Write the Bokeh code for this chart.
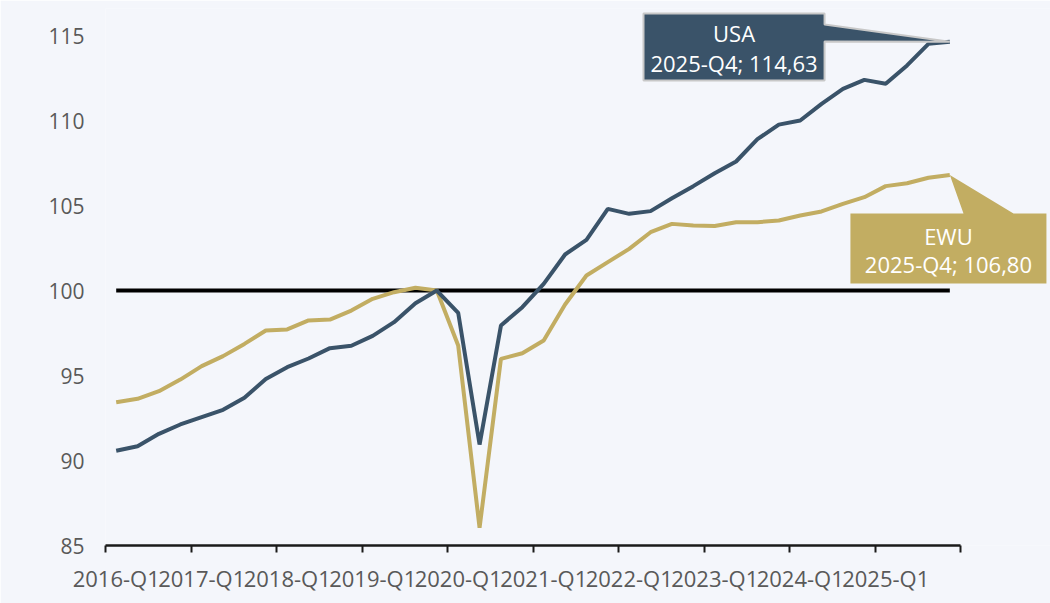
from bokeh.plotting import figure
from bokeh.models import FixedTicker, Range1d
from bokeh.core.properties import value
from bokeh.embed import file_html
from bokeh.resources import INLINE

# ---- data ----
quarters = [f"{y}-Q{q}" for y in range(2016, 2026) for q in range(1, 5)]
usa = [90.57, 90.84, 91.57, 92.12, 92.55, 92.98, 93.69, 94.80, 95.49, 96.00,
       96.61, 96.75, 97.33, 98.14, 99.25, 100.00, 98.69, 90.94, 97.94, 99.02,
       100.39, 102.12, 102.98, 104.80, 104.51, 104.67, 105.43, 106.14, 106.90, 107.59,
       108.90, 109.76, 110.00, 110.98, 111.86, 112.39, 112.16, 113.24, 114.51, 114.63]
ewu = [93.43, 93.63, 94.08, 94.76, 95.55, 96.14, 96.86, 97.65, 97.71, 98.24,
       98.29, 98.82, 99.51, 99.90, 100.16, 100.00, 96.76, 86.04, 95.98, 96.31,
       97.06, 99.18, 100.88, 101.67, 102.45, 103.43, 103.92, 103.82, 103.80, 104.02,
       104.02, 104.12, 104.41, 104.65, 105.10, 105.49, 106.14, 106.31, 106.63, 106.80]
baseline = [100.0] * len(quarters)
y_ticks = [85, 90, 95, 100, 105, 110, 115]
usa_label = ["USA", "2025-Q4; 114,63"]
ewu_label = ["EWU", "2025-Q4; 106,80"]

# ---- styles ----
BG = "#f4f6fb"
C_USA = "#3a5369"
C_EWU = "#c2ad62"
TXT = "#595959"
FONT = "Open Sans"

n = len(quarters)
x = list(range(n))

p = figure(width=1050, height=603,
           x_range=Range1d(-0.5, 43.71), y_range=Range1d(85, 116.59),
           output_backend="svg", toolbar_location=None,
           min_border_left=105, min_border_right=0, min_border_top=8, min_border_bottom=58)
p.background_fill_color = BG
p.border_fill_color = BG
p.outline_line_color = None
p.xgrid.visible = False
p.ygrid.visible = False

# y axis
ya = p.yaxis[0]
ya.ticker = FixedTicker(ticks=y_ticks)
ya.axis_line_color = None
ya.major_tick_line_color = None
ya.minor_tick_line_color = None
ya.major_tick_out = 0
ya.major_tick_in = 0
ya.major_label_standoff = 21
ya.major_label_text_font = FONT
ya.major_label_text_font_size = "21px"
ya.major_label_text_color = TXT

# x axis: labels at category centres, tick marks at every 4th boundary (minor ticks)
xa = p.xaxis[0]
xa.bounds = (-0.5, n - 0.5)
xa.ticker = FixedTicker(ticks=list(range(0, n, 4)),
                        minor_ticks=[-0.5 + 4 * k for k in range(n // 4 + 1)])
xa.major_label_overrides = {i: quarters[i] for i in range(0, n, 4)}
xa.axis_line_color = "#1a1a1a"
xa.axis_line_width = 2.5
xa.major_tick_line_color = None
xa.major_tick_out = 0
xa.major_tick_in = 0
xa.minor_tick_line_color = "#1a1a1a"
xa.minor_tick_line_width = 2
xa.minor_tick_out = 7
xa.minor_tick_in = 0
xa.major_label_standoff = 10
xa.major_label_text_font = FONT
xa.major_label_text_font_size = "22px"
xa.major_label_text_color = TXT

# lines
p.line(x, baseline, line_color="black", line_width=4)
p.line(x, ewu, line_color=C_EWU, line_width=4)
p.line(x, usa, line_color=C_USA, line_width=4)

# callouts (anchored to last points)
lx = n - 1
ux0, ux1 = lx - 14.33, lx - 5.86
uy0, uy1 = usa[-1] - 2.28, usa[-1] + 1.66
p.patch([ux0, ux1, ux1, lx, ux1, ux1, ux0],
        [uy1, uy1, usa[-1] + 1.02, usa[-1], usa[-1] + 0.02, uy0, uy0],
        fill_color=C_USA, line_color="#c8c8c8", line_width=2)
ucx = (ux0 + ux1) / 2
ucy = (uy0 + uy1) / 2
p.text([ucx, ucx], [ucy + 0.80, ucy - 0.95], text=usa_label,
       text_align="center", text_baseline="middle", text_color="white",
       text_font=value(FONT), text_font_size="22px")

ex0, ex1 = lx - 4.65, lx + 4.52
ey0, ey1 = ewu[-1] - 6.39, ewu[-1] - 2.27
p.patch([ex0, lx + 0.64, lx, lx + 2.98, ex1, ex1, ex0],
        [ey1, ey1, ewu[-1], ey1, ey1, ey0, ey0],
        fill_color=C_EWU, line_color=None)
ecx = (ex0 + ex1) / 2
ecy = (ey0 + ey1) / 2
p.text([ecx, ecx], [ecy + 0.75, ecy - 0.90], text=ewu_label,
       text_align="center", text_baseline="middle", text_color="white",
       text_font=value(FONT), text_font_size="22px")

open("out.html", "w").write(file_html(p, INLINE))
